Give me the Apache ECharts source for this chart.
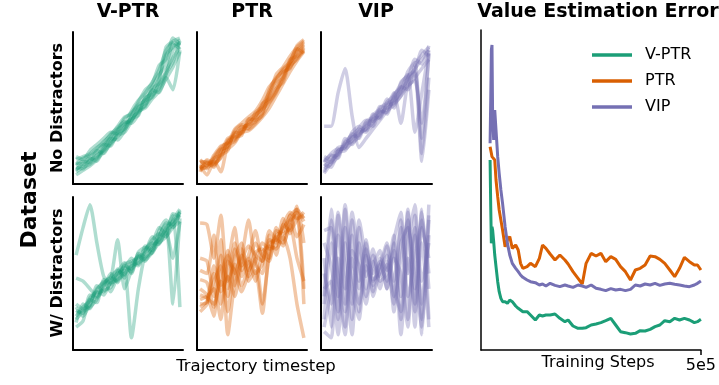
<!DOCTYPE html>
<html>
<head>
<meta charset="utf-8">
<script src="https://cdn.jsdelivr.net/npm/echarts@6/dist/echarts.min.js"></script>
<style>
  html, body { margin: 0; padding: 0; background: #fff; }
  #chart { width: 719px; height: 385px; }
</style>
</head>
<body>
<div id="chart"></div>
<script>
// methods and colours
const methods = ["V-PTR", "PTR", "VIP"];
const colors = ["#1b9e77", "#d95f02", "#7570b3"];
const rowLabels = ["No Distractors", "W/ Distractors"];

// trajectory panels: each row is one trajectory, values are normalised (0 = bottom, 100 = top)
const vptrClean = [
  [10,12,15,19,22,27,31,37,44,47,52,58,63,72,88,93],
  [14,13,18,21,26,25,34,40,42,50,56,61,70,85,90,95],
  [8,11,13,17,23,30,29,35,45,51,53,63,66,74,83,90],
  [16,18,20,24,27,33,37,41,40,46,58,64,72,78,92,89],
  [12,15,14,22,20,28,35,43,47,52,55,57,68,90,94,96],
  [6,9,12,16,21,26,32,34,41,49,51,62,60,70,62,88],
  [18,16,22,26,30,34,33,38,48,55,60,67,75,88,93,91],
  [11,10,16,18,25,31,36,39,43,45,57,59,65,73,80,94],
  [13,17,19,23,28,32,38,44,46,54,62,66,78,82,96,92],
  [9,14,17,15,24,29,34,36,42,48,50,56,61,69,77,87]
];
const ptrClean = [
  [10,11,14,22,25,33,36,37,43,47,58,66,70,80,86,91],
  [14,15,13,18,28,30,34,40,45,50,55,62,73,77,83,88],
  [12,6,16,24,27,29,37,39,41,52,60,68,75,79,88,93],
  [9,12,17,19,22,34,33,42,46,49,54,61,69,82,84,90],
  [15,14,12,21,30,32,38,36,40,46,62,70,74,76,87,92],
  [11,13,15,8,26,28,35,41,44,53,56,63,67,81,89,86],
  [13,10,18,23,24,35,39,38,47,51,59,72,77,84,90,94],
  [8,16,14,17,29,31,32,43,42,45,53,60,71,78,82,89],
  [16,12,19,25,27,36,40,44,48,55,64,69,76,80,91,95],
  [10,14,11,20,23,27,34,35,39,44,50,58,66,74,81,87]
];
const vipClean = [
  [38,38,60,76,45,24,30,36,42,48,52,58,64,70,76,82],
  [12,15,20,26,28,34,36,40,47,49,56,62,68,74,30,86],
  [16,14,22,24,31,32,39,43,44,52,53,58,70,76,82,88],
  [8,18,19,27,30,35,38,42,46,51,60,40,67,73,15,62],
  [14,20,23,23,27,31,41,44,48,47,57,64,62,78,85,90],
  [10,13,18,28,32,36,34,46,43,54,58,66,72,34,60,88],
  [18,16,24,25,33,30,40,38,50,53,55,61,74,80,20,70],
  [13,11,21,22,29,37,42,41,45,56,50,67,71,75,88,84],
  [15,19,17,30,26,33,36,45,49,46,59,63,69,82,79,91],
  [7,14,22,24,34,38,35,39,51,50,54,60,65,68,40,86]
];
const vptrDistract = [
  [62,80,95,70,48,44,46,50,55,57,60,64,70,74,80,84],
  [24,26,34,38,36,45,50,52,8,40,63,68,72,78,82,88],
  [28,22,30,40,44,47,45,56,58,60,66,70,69,80,84,90],
  [20,25,28,33,42,46,72,40,52,62,59,64,75,82,30,86],
  [47,45,40,35,43,48,52,49,57,55,65,72,76,74,85,92],
  [18,30,27,37,39,41,49,54,51,63,61,67,73,79,88,28],
  [26,24,36,34,41,50,44,53,60,56,68,65,78,85,80,90],
  [22,28,32,39,45,38,48,55,53,59,64,74,70,77,60,84],
  [30,27,29,42,38,44,53,47,56,61,58,69,80,76,89,87],
  [15,19,33,31,46,43,51,57,50,64,67,63,74,83,82,91]
];
const ptrDistract = [
  [83,82,60,88,40,70,55,62,78,58,70,72,80,85,90,84],
  [60,58,35,72,10,45,66,52,60,30,62,75,78,88,92,40],
  [52,50,75,30,55,80,48,58,45,64,68,66,74,60,30,8],
  [46,44,28,50,62,42,60,85,56,50,72,70,82,90,86,88],
  [33,35,40,20,58,52,38,50,64,66,60,78,76,80,94,70],
  [30,31,45,55,25,60,70,45,52,24,65,74,68,84,88,30],
  [28,32,50,38,48,35,58,68,62,58,75,62,82,78,85,90],
  [40,36,22,62,45,56,42,55,70,62,58,80,72,88,74,82],
  [25,30,55,42,65,50,62,48,58,70,66,68,86,76,92,86],
  [36,34,30,45,35,66,52,60,50,56,78,72,70,82,60,45]
];
const vipDistract = [
  [78,80,20,92,30,85,60,45,55,70,40,25,90,15,80,60],
  [60,15,88,40,75,25,66,50,58,40,72,90,20,75,30,88],
  [40,45,10,70,20,80,40,62,48,56,30,60,85,40,92,20],
  [20,70,35,95,50,30,55,42,60,52,65,20,70,95,10,75],
  [12,8,60,25,85,45,70,35,52,62,45,80,35,60,85,40],
  [30,85,50,15,65,55,30,58,45,50,75,35,92,25,70,15],
  [50,30,90,55,10,70,48,66,40,58,35,85,50,80,20,95],
  [70,55,25,80,40,20,62,38,56,45,60,50,15,88,45,70],
  [15,40,75,30,90,60,35,55,65,40,70,10,60,30,90,50],
  [35,92,45,10,60,40,72,46,50,68,25,70,80,50,15,85]
];

// value estimation error curves
const trainSteps = [1500,3000,4500,6000,7500,10000,12500,15500,19500,23000,27000,31000,37000,42500,48000,
  54000,62000,68000,73500,79000,89000,97000,108500,118000,125500,133500,143500,155000,166500,178500,
  186000,197500,209500,219500,228500,240500,252000,263500,275000,287000,298500,310000,321500,333500,
  345000,356500,368000,380000,391500,403000,414500,426500,438000,449500,461000,473000,484500,492000,500000];
const vptrError = [57,43,32,37,36,32.5,28.5,25,20.5,17.5,15.5,14.5,14.5,14,15,14.5,13.2,12.5,12,11.5,11.5,10.5,9,
  10.5,10.2,10.5,10.5,10.8,9.5,8.5,9,7.2,6.5,6.5,6.7,7.5,7.8,8.2,8.8,9.5,7.5,5.5,5.2,4.8,5,5.8,5.7,6.2,7,
  7.5,8.8,8.5,9.5,9,9.5,9,8.2,8.5,9.2];
const ptrError = [61,60,59,58,58.5,58,57,51,46,42,39,36,31,33,34,30.5,31.5,30,26,24.5,25,26,25,27.5,31.5,30.5,
  28.8,27,28.5,27,25.8,23.5,21.5,19.8,26,29,28.2,29,26.5,28,27.2,25,23.5,21,24,24.5,25.5,28.2,28,27.2,26,
  24,22,24.5,27.8,26.5,25.5,25.5,24];
const vipError = [62,75,90,91.5,70,63,72,66,58,53,48,44,37,32,28.5,26,24.5,23.5,22.5,21.8,21,20.5,20.2,19.5,
  19.8,19.2,20,19.4,19,19.5,19.2,18.8,19.5,19.2,18.8,19.5,18.5,18.2,17.8,18.4,18,18.2,17.8,18.2,19.5,19.2,
  19.8,19.5,20,19.4,19.8,20,19.7,19.5,19.2,19,19.5,20,20.7];

const font = "'DejaVu Sans', sans-serif";
const panelData = [[vptrClean, ptrClean, vipClean], [vptrDistract, ptrDistract, vipDistract]];
const colLeft = [73, 197, 321];
const colWidth = [110, 110, 111];
const rowTop = [32, 197];
const rowHeight = [152, 153];

const axisLine = (w) => ({ show: true, onZero: false, lineStyle: { color: "#000", width: w } });

const grid = [], xAxis = [], yAxis = [], series = [];
panelData.forEach((row, r) => {
  row.forEach((lines, c) => {
    const idx = grid.length;
    grid.push({ left: colLeft[c], top: rowTop[r], width: colWidth[c], height: rowHeight[r] });
    xAxis.push({ type: "value", gridIndex: idx, min: -0.45, max: 15.45, axisLine: axisLine(2),
      axisTick: { show: false }, axisLabel: { show: false }, splitLine: { show: false } });
    yAxis.push({ type: "value", gridIndex: idx, min: 0, max: 100, axisLine: axisLine(2),
      axisTick: { show: false }, axisLabel: { show: false }, splitLine: { show: false } });
    lines.forEach(vals => {
      series.push({
        type: "line", xAxisIndex: idx, yAxisIndex: idx, silent: true,
        showSymbol: false, symbol: "none", smooth: 0.2,
        lineStyle: { color: colors[c], width: 3.5, opacity: 0.35 },
        data: vals.map((v, i) => [i, v])
      });
    });
  });
});

// right panel
const errIdx = grid.length;
grid.push({ left: 481, top: 30, width: 224, height: 320 });
xAxis.push({ type: "value", gridIndex: errIdx, min: -20000, max: 500000, axisLine: axisLine(1.5),
  axisTick: { show: true, customValues: [500000], length: 5, lineStyle: { color: "#000", width: 1.5 } },
  axisLabel: { show: true, customValues: [500000], formatter: () => "5e5", color: "#000",
    fontSize: 16, fontFamily: font, margin: 8 },
  splitLine: { show: false } });
yAxis.push({ type: "value", gridIndex: errIdx, min: 0, max: 96, axisLine: axisLine(1.5),
  axisTick: { show: false }, axisLabel: { show: false }, splitLine: { show: false } });
[vptrError, ptrError, vipError].forEach((vals, k) => {
  series.push({
    name: methods[k], type: "line", xAxisIndex: errIdx, yAxisIndex: errIdx,
    showSymbol: false, symbol: "none", color: colors[k],
    lineStyle: { color: colors[k], width: 3 },
    data: vals.map((v, i) => [trainSteps[i], v])
  });
});

const txt = (text, x, y, size, bold, rot) => ({
  type: "text", x, y, rotation: rot || 0, silent: true,
  style: { text, fill: "#000", font: `${bold ? "bold " : ""}${size}px ${font}`,
    textAlign: "center", textVerticalAlign: "middle" }
});

const chart = echarts.init(document.getElementById("chart"));
chart.setOption({
  animation: false,
  backgroundColor: "#fff",
  grid, xAxis, yAxis, series,
  legend: {
    data: methods, orient: "vertical", left: 592, top: 47, padding: 0,
    icon: "rect", itemWidth: 40, itemHeight: 3.5, itemGap: 10,
    textStyle: { fontSize: 16, fontFamily: font, color: "#000", padding: [0, 0, 0, 8] }
  },
  graphic: [
    txt(methods[0], 128, 12, 19, true),
    txt(methods[1], 252, 12, 19, true),
    txt(methods[2], 376, 12, 19, true),
    txt("Value Estimation Error", 598, 12, 19, true),
    txt("Trajectory timestep", 256, 367, 16.5, false),
    txt("Training Steps", 598, 363, 16, false),
    txt("Dataset", 30, 200, 22, true, Math.PI / 2),
    txt(rowLabels[0], 58, 108, 16, true, Math.PI / 2),
    txt(rowLabels[1], 58, 273, 16, true, Math.PI / 2)
  ]
});
</script>
</body>
</html>
